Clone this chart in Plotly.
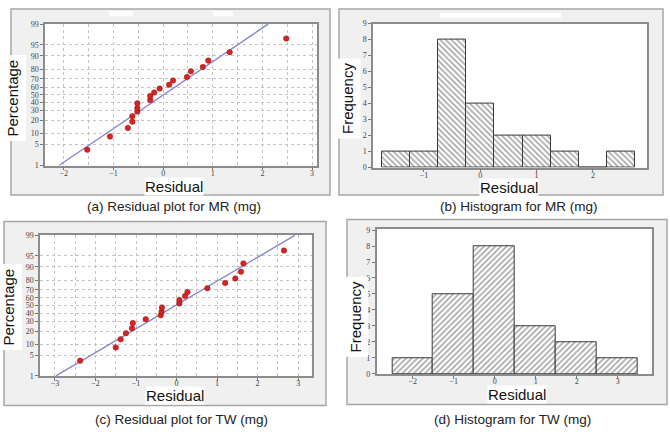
import plotly.graph_objects as go
from statistics import NormalDist

W, H = 670, 435

# ---------------- data ----------------
# (a) normal probability plot of residuals, MR (mg)
mr_resid = [-1.53, -1.07, -0.71, -0.62, -0.62, -0.52, -0.52, -0.52, -0.26, -0.26,
            -0.18, -0.07, 0.12, 0.20, 0.48, 0.56, 0.80, 0.91, 1.34, 2.48]
mr_pct = [3.5, 8.4, 13.7, 18.7, 24, 29, 33, 39, 43, 48.5,
          53, 58, 63, 68, 72, 78, 82, 87, 92, 96.8]
mr_fit_mean, mr_fit_sd = 0.01, 0.9045

# (b) histogram of residuals, MR (mg)
mr_bin_centers = [-1.5, -1.0, -0.5, 0.0, 0.5, 1.0, 1.5, 2.0, 2.5]
mr_counts = [1, 1, 8, 4, 2, 2, 1, 0, 1]
mr_bin_width = 0.5

# (c) normal probability plot of residuals, TW (mg)
tw_resid = [-2.38, -1.50, -1.38, -1.25, -1.10, -1.08, -0.76, -0.39, -0.37, -0.36,
            0.07, 0.07, 0.21, 0.27, 0.76, 1.20, 1.45, 1.59, 1.65, 2.65]
tw_pct = [3.4, 8.3, 13.2, 18.1, 22.7, 28.2, 32.7, 37.5, 42, 47.6,
          52.8, 57.5, 62.5, 67.3, 71.8, 77.3, 81.6, 87, 91.9, 96.6]
tw_fit_mean, tw_fit_sd = -0.03, 1.267

# (d) histogram of residuals, TW (mg)
tw_bin_centers = [-2, -1, 0, 1, 2, 3]
tw_counts = [1, 5, 8, 3, 2, 1]
tw_bin_width = 1.0

pct_ticks = [1, 5, 10, 20, 30, 40, 50, 60, 70, 80, 90, 95, 99]
prob_x_ticks = [-3, -2, -1, 0, 1, 2, 3]
captions = ["(a) Residual plot for MR (mg)", "(b) Histogram for MR (mg)",
            "(c) Residual plot for TW (mg)", "(d) Histogram for TW (mg)"]

# ---------------- helpers ----------------
nd = NormalDist()
def z(p):
    return nd.inv_cdf(p / 100.0)

def px(v):
    return v / W

def py(v):
    return 1 - v / H

ZLIM = z(99)

fig = go.Figure()

# probability plots
for resid, pct, mu, sd, xa, ya in [
        (mr_resid, mr_pct, mr_fit_mean, mr_fit_sd, "x", "y"),
        (tw_resid, tw_pct, tw_fit_mean, tw_fit_sd, "x3", "y3")]:
    zl = [-ZLIM, ZLIM]
    fig.add_trace(go.Scatter(x=[mu + sd * v for v in zl], y=zl, mode="lines",
                             line=dict(color="#8787d0", width=1.4),
                             xaxis=xa, yaxis=ya, showlegend=False, hoverinfo="skip"))
    fig.add_trace(go.Scatter(x=resid, y=[z(p) for p in pct], mode="markers",
                             marker=dict(color="#d42424", size=5.5,
                                         line=dict(color="#a01010", width=0.5)),
                             xaxis=xa, yaxis=ya, showlegend=False))

# histograms
for centers, counts, width, shape, xa, ya in [
        (mr_bin_centers, mr_counts, mr_bin_width, "\\", "x2", "y2"),
        (tw_bin_centers, tw_counts, tw_bin_width, "/", "x4", "y4")]:
    fig.add_trace(go.Bar(x=centers, y=counts, width=width,
                         marker=dict(color="white",
                                     line=dict(color="#3a3a3a", width=1),
                                     pattern=dict(shape=shape, fgcolor="#4e4e4e",
                                                  bgcolor="white", size=4, solidity=0.4)),
                         xaxis=xa, yaxis=ya, showlegend=False))

tickfont = dict(family="Liberation Serif", size=8, color="#444")
base = dict(showline=True, mirror=True, linecolor="#8c8c8c", linewidth=1.5,
            ticks="outside", ticklen=3, tickcolor="#777", tickwidth=1,
            tickfont=tickfont, zeroline=False, showgrid=False, fixedrange=True)
xbase = dict(base, ticklabelstandoff=-4)
grid = dict(showgrid=True, gridcolor="#c4c4c4", griddash="dot", gridwidth=1)

def dom_x(a, b):
    return [px(a), px(b)]

def dom_y(top, bottom):
    return [py(bottom), py(top)]

# panel plot-area rectangles (pixels): left, top, right, bottom
pa = (45, 20, 317, 165)
pb = (373, 20, 647, 167)
pc = (40, 235.7, 311.5, 380)
pd_ = (376.7, 230, 651.7, 377.7)

fig.update_layout(
    xaxis=dict(xbase, **grid, domain=dom_x(pa[0], pa[2]), range=[-2.38, 3.1],
               tickvals=prob_x_ticks, anchor="y",
               minor=dict(dtick=0.5, tick0=0, showgrid=True, gridcolor="#c4c4c4",
                          griddash="dot", ticks="")),
    yaxis=dict(base, **grid, domain=dom_y(pa[1], pa[3]), range=[-ZLIM - 0.01, ZLIM + 0.02],
               tickvals=[z(p) for p in pct_ticks], ticktext=[str(p) for p in pct_ticks],
               anchor="x"),
    xaxis2=dict(xbase, domain=dom_x(pb[0], pb[2]), range=[-1.905, 2.96],
                tickvals=[-1, 0, 1, 2], anchor="y2"),
    yaxis2=dict(base, domain=dom_y(pb[1], pb[3]), range=[0, 9], dtick=1, anchor="x2"),
    xaxis3=dict(xbase, **grid, domain=dom_x(pc[0], pc[2]), range=[-3.37, 3.33],
                tickvals=prob_x_ticks, anchor="y3",
                minor=dict(dtick=0.5, tick0=0, showgrid=True, gridcolor="#c4c4c4",
                           griddash="dot", ticks="")),
    yaxis3=dict(base, **grid, domain=dom_y(pc[1], pc[3]), range=[-ZLIM - 0.01, ZLIM + 0.02],
                tickvals=[z(p) for p in pct_ticks], ticktext=[str(p) for p in pct_ticks],
                anchor="x3"),
    xaxis4=dict(xbase, domain=dom_x(pd_[0], pd_[2]), range=[-2.878, 3.83],
                tickvals=[-2, -1, 0, 1, 2, 3], anchor="y4"),
    yaxis4=dict(base, domain=dom_y(pd_[1], pd_[3]), range=[0, 9.05], dtick=1, anchor="x4"),
    width=W, height=H, margin=dict(l=0, r=0, t=0, b=0),
    paper_bgcolor="white", plot_bgcolor="rgba(0,0,0,0)",
    bargap=0, showlegend=False,
)

shapes = []
# outer grey frames
for (l, t, r, b) in [(11, 5, 330, 195), (339, 5, 663, 195), (4, 222, 326, 410), (347, 220, 667, 409)]:
    shapes.append(dict(type="rect", xref="paper", yref="paper", x0=px(l), x1=px(r),
                       y0=py(b), y1=py(t), line=dict(color="#a6a6a6", width=1.5),
                       fillcolor="#f0f0f0", layer="below"))
# white plot areas
for (l, t, r, b) in [pa, pb, pc, pd_]:
    shapes.append(dict(type="rect", xref="paper", yref="paper", x0=px(l), x1=px(r),
                       y0=py(b), y1=py(t), line=dict(width=0),
                       fillcolor="white", layer="below"))
# small white patches at top of upper frames
for (l, t, r, b) in [(109, 7, 133, 12), (213, 7, 233, 12), (440, 9, 561, 14)]:
    shapes.append(dict(type="rect", xref="paper", yref="paper", x0=px(l), x1=px(r),
                       y0=py(b), y1=py(t), line=dict(width=0),
                       fillcolor="white", layer="below"))
fig.update_layout(shapes=shapes)

ann = []
labfont = dict(family="Liberation Sans", size=15, color="#111")
# y axis titles (rotated, white boxes)
for text, cx, cy in [("Percentage", 12.5, 96), ("Frequency", 348, 97),
                     ("Percentage", 9, 310), ("Frequency", 355, 320)]:
    ann.append(dict(text=text, x=px(cx), y=py(cy), xref="paper", yref="paper",
                    xanchor="center", yanchor="middle", showarrow=False, textangle=-90,
                    font=labfont, bgcolor="white", borderpad=4))
# x axis titles
for cx, cy in [(174, 186.5), (509, 187.5), (175, 400), (517, 398.5)]:
    ann.append(dict(text="Residual", x=px(cx), y=py(cy), xref="paper", yref="paper",
                    xanchor="center", yanchor="middle", showarrow=False,
                    font=labfont, bgcolor="white", borderpad=0))
# captions
capfont = dict(family="Liberation Sans", size=13.5, color="#222")
for text, cx, cy in zip(captions, [174, 519, 181, 512], [207, 207, 424, 424]):
    ann.append(dict(text=text, x=px(cx), y=py(cy), xref="paper", yref="paper",
                    xanchor="center", yanchor="middle", showarrow=False, font=capfont))
fig.update_layout(annotations=ann)

fig.write_html("out.html")
